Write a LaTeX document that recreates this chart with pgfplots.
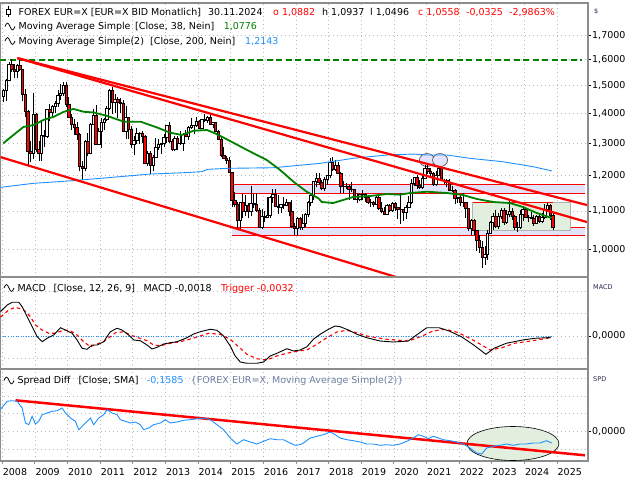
\documentclass[border=0pt]{standalone}
\usepackage{pgfplots}
\pgfplotsset{compat=1.18}
\usepackage{pgfplotstable}
\usepackage{fontspec}
\setmainfont{DejaVu Sans}
\definecolor{cred}{RGB}{255,0,0}
\definecolor{cgreen}{RGB}{0,128,0}
\definecolor{cblue}{RGB}{30,144,255}
\definecolor{cgrid}{RGB}{185,185,185}
\definecolor{cframe}{RGB}{140,140,140}
\definecolor{clav}{RGB}{226,226,250}
\definecolor{clgreen}{RGB}{226,238,222}
\definecolor{cspd}{RGB}{110,128,160}
\definecolor{clab}{RGB}{40,40,80}
\newcommand\lf{\fontsize{9.5}{11}\selectfont}
\newcommand\smf{\fontsize{6.5}{7}\selectfont}

\pgfplotstableread{
m o h l c
0 1.4590 1.4890 1.4400 1.4830
1 1.4830 1.5240 1.4440 1.5180
2 1.5180 1.5900 1.5160 1.5790
3 1.5790 1.6020 1.5510 1.5620
4 1.5620 1.5820 1.5290 1.5550
5 1.5550 1.5840 1.5290 1.5750
6 1.5750 1.6040 1.5560 1.5610
7 1.5610 1.5620 1.4430 1.4680
8 1.4680 1.4870 1.3880 1.4080
9 1.4080 1.4120 1.2330 1.2730
10 1.2730 1.3080 1.2420 1.2690
11 1.2690 1.4720 1.2510 1.3970
12 1.3970 1.4010 1.2740 1.2800
13 1.2800 1.3080 1.2460 1.2670
14 1.2670 1.3740 1.2460 1.3250
15 1.3250 1.3430 1.2880 1.3230
16 1.3230 1.4160 1.3190 1.4150
17 1.4150 1.4340 1.3750 1.4030
18 1.4030 1.4300 1.3850 1.4250
19 1.4250 1.4450 1.4000 1.4340
20 1.4340 1.4840 1.4220 1.4640
21 1.4640 1.5060 1.4480 1.4720
22 1.4720 1.5140 1.4620 1.5000
23 1.5000 1.5140 1.4220 1.4330
24 1.4330 1.4580 1.3860 1.3870
25 1.3870 1.3990 1.3440 1.3630
26 1.3630 1.3820 1.3270 1.3510
27 1.3510 1.3700 1.3110 1.3290
28 1.3290 1.3330 1.2140 1.2270
29 1.2270 1.2460 1.1880 1.2230
30 1.2230 1.3110 1.2150 1.3050
31 1.3050 1.3330 1.2590 1.2680
32 1.2680 1.3670 1.2650 1.3630
33 1.3630 1.4160 1.3600 1.3930
34 1.3930 1.4280 1.2970 1.2980
35 1.2980 1.3500 1.2970 1.3380
36 1.3380 1.3860 1.2860 1.3690
37 1.3690 1.3860 1.3440 1.3800
38 1.3800 1.4250 1.3750 1.4160
39 1.4160 1.4880 1.4110 1.4810
40 1.4810 1.4940 1.3970 1.4390
41 1.4390 1.4700 1.4000 1.4500
42 1.4500 1.4580 1.3840 1.4390
43 1.4390 1.4550 1.4000 1.4370
44 1.4370 1.4480 1.3360 1.3390
45 1.3390 1.4250 1.3150 1.3860
46 1.3860 1.3880 1.3140 1.3450
47 1.3450 1.3560 1.2860 1.2960
48 1.2960 1.3230 1.2620 1.3080
49 1.3080 1.3490 1.2970 1.3330
50 1.3330 1.3380 1.2980 1.3340
51 1.3340 1.3390 1.3000 1.3240
52 1.3240 1.3280 1.2340 1.2370
53 1.2370 1.2750 1.2290 1.2670
54 1.2670 1.2750 1.2040 1.2300
55 1.2300 1.2640 1.2130 1.2570
56 1.2570 1.3170 1.2560 1.2860
57 1.2860 1.3140 1.2800 1.2960
58 1.2960 1.3010 1.2660 1.2990
59 1.2990 1.3310 1.2880 1.3190
60 1.3190 1.3590 1.3000 1.3580
61 1.3580 1.3710 1.3020 1.3070
62 1.3070 1.3140 1.2750 1.2820
63 1.2820 1.3240 1.2750 1.3170
64 1.3170 1.3240 1.2800 1.2990
65 1.2990 1.3420 1.2960 1.3010
66 1.3010 1.3350 1.2750 1.3300
67 1.3300 1.3450 1.3210 1.3220
68 1.3220 1.3570 1.3100 1.3530
69 1.3530 1.3830 1.3480 1.3580
70 1.3580 1.3620 1.3300 1.3590
71 1.3590 1.3890 1.3540 1.3740
72 1.3740 1.3770 1.3480 1.3490
73 1.3490 1.3820 1.3480 1.3800
74 1.3800 1.3970 1.3720 1.3770
75 1.3770 1.3900 1.3670 1.3870
76 1.3870 1.3990 1.3590 1.3630
77 1.3630 1.3700 1.3500 1.3690
78 1.3690 1.3700 1.3370 1.3390
79 1.3390 1.3440 1.3120 1.3130
80 1.3130 1.3220 1.2570 1.2630
81 1.2630 1.2890 1.2500 1.2530
82 1.2530 1.2600 1.2360 1.2450
83 1.2450 1.2570 1.2080 1.2100
84 1.2100 1.2120 1.1100 1.1290
85 1.1290 1.1530 1.1100 1.1190
86 1.1190 1.1240 1.0500 1.0730
87 1.0730 1.1250 1.0520 1.1220
88 1.1220 1.1470 1.0820 1.0990
89 1.0990 1.1440 1.0870 1.1150
90 1.1150 1.1210 1.0810 1.0980
91 1.0980 1.1710 1.0850 1.1210
92 1.1210 1.1460 1.1090 1.1180
93 1.1180 1.1500 1.0960 1.1000
94 1.1000 1.1090 1.0560 1.0570
95 1.0570 1.1060 1.0520 1.0860
96 1.0860 1.0990 1.0710 1.0830
97 1.0830 1.1380 1.0810 1.0870
98 1.0870 1.1410 1.0820 1.1380
99 1.1380 1.1610 1.1210 1.1450
100 1.1450 1.1620 1.1100 1.1130
101 1.1130 1.1430 1.0910 1.1100
102 1.1100 1.1190 1.0950 1.1170
103 1.1170 1.1370 1.1050 1.1160
104 1.1160 1.1330 1.1120 1.1240
105 1.1240 1.1250 1.0850 1.0980
106 1.0980 1.1300 1.0550 1.0590
107 1.0590 1.0670 1.0350 1.0520
108 1.0520 1.0830 1.0340 1.0800
109 1.0800 1.0830 1.0490 1.0570
110 1.0570 1.0910 1.0500 1.0650
111 1.0650 1.0950 1.0570 1.0900
112 1.0900 1.1270 1.0840 1.1240
113 1.1240 1.1450 1.1120 1.1420
114 1.1420 1.1850 1.1310 1.1840
115 1.1840 1.2070 1.1660 1.1910
116 1.1910 1.2090 1.1720 1.1810
117 1.1810 1.1880 1.1570 1.1640
118 1.1640 1.1960 1.1550 1.1900
119 1.1900 1.2020 1.1720 1.2000
120 1.2000 1.2530 1.1920 1.2410
121 1.2410 1.2560 1.2150 1.2190
122 1.2190 1.2480 1.2150 1.2320
123 1.2320 1.2420 1.2060 1.2080
124 1.2080 1.2100 1.1510 1.1690
125 1.1690 1.1850 1.1510 1.1680
126 1.1680 1.1790 1.1610 1.1690
127 1.1690 1.1730 1.1300 1.1600
128 1.1600 1.1820 1.1530 1.1600
129 1.1600 1.1620 1.1300 1.1310
130 1.1310 1.1500 1.1220 1.1320
131 1.1320 1.1490 1.1270 1.1470
132 1.1470 1.1570 1.1290 1.1450
133 1.1450 1.1490 1.1240 1.1370
134 1.1370 1.1450 1.1180 1.1220
135 1.1220 1.1320 1.1110 1.1220
136 1.1220 1.1260 1.1110 1.1170
137 1.1170 1.1410 1.1160 1.1370
138 1.1370 1.1410 1.1030 1.1080
139 1.1080 1.1250 1.0930 1.0990
140 1.0990 1.1110 1.0880 1.0900
141 1.0900 1.1180 1.0880 1.1150
142 1.1150 1.1180 1.0980 1.1020
143 1.1020 1.1240 1.0980 1.1210
144 1.1210 1.1240 1.0990 1.1090
145 1.1090 1.1100 1.0780 1.1030
146 1.1030 1.1500 1.0640 1.1030
147 1.1030 1.1050 1.0730 1.0950
148 1.0950 1.1150 1.0770 1.1100
149 1.1100 1.1420 1.1080 1.1230
150 1.1230 1.1910 1.1190 1.1780
151 1.1780 1.1970 1.1700 1.1940
152 1.1940 1.2010 1.1610 1.1720
153 1.1720 1.1880 1.1620 1.1650
154 1.1650 1.2000 1.1600 1.1930
155 1.1930 1.2310 1.1920 1.2210
156 1.2210 1.2350 1.2050 1.2140
157 1.2140 1.2240 1.1950 1.2070
158 1.2070 1.2110 1.1700 1.1730
159 1.1730 1.2150 1.1700 1.2020
160 1.2020 1.2270 1.1990 1.2230
161 1.2230 1.2250 1.1850 1.1860
162 1.1860 1.1910 1.1750 1.1870
163 1.1870 1.1910 1.1660 1.1810
164 1.1810 1.1910 1.1560 1.1580
165 1.1580 1.1690 1.1520 1.1560
166 1.1560 1.1610 1.1190 1.1340
167 1.1340 1.1390 1.1220 1.1370
168 1.1370 1.1480 1.1120 1.1230
169 1.1230 1.1500 1.1110 1.1220
170 1.1220 1.1230 1.0810 1.1070
171 1.1070 1.1080 1.0470 1.0540
172 1.0540 1.0790 1.0350 1.0730
173 1.0730 1.0770 1.0360 1.0480
174 1.0480 1.0490 0.9950 1.0220
175 1.0220 1.0370 0.9900 1.0050
176 1.0050 1.0200 0.9540 0.9800
177 0.9800 1.0090 0.9630 0.9880
178 0.9880 1.0500 0.9730 1.0400
179 1.0400 1.0740 1.0390 1.0700
180 1.0700 1.0930 1.0480 1.0860
181 1.0860 1.1030 1.0530 1.0580
182 1.0580 1.0930 1.0520 1.0840
183 1.0840 1.1090 1.0790 1.1020
184 1.1020 1.1090 1.0630 1.0690
185 1.0690 1.1010 1.0660 1.0910
186 1.0910 1.1280 1.0830 1.0990
187 1.0990 1.1070 1.0760 1.0840
188 1.0840 1.0880 1.0490 1.0570
189 1.0570 1.0700 1.0450 1.0570
190 1.0570 1.1020 1.0520 1.0890
191 1.0890 1.1140 1.0720 1.1040
192 1.1040 1.1050 1.0800 1.0820
193 1.0820 1.0900 1.0690 1.0810
194 1.0810 1.0980 1.0770 1.0790
195 1.0790 1.0890 1.0600 1.0670
196 1.0670 1.0900 1.0650 1.0850
197 1.0850 1.0920 1.0670 1.0710
198 1.0710 1.0950 1.0670 1.0820
199 1.0820 1.1200 1.0780 1.1050
200 1.1050 1.1210 1.1000 1.1140
201 1.1140 1.1200 1.0760 1.0880
202 1.0882 1.0937 1.0496 1.0558
}\ohlc
\pgfplotstablegetrowsof{\ohlc}
\pgfmathtruncatemacro{\lastrow}{\pgfplotsretval-1}

\pgfplotsset{panel/.style={
  scale only axis, anchor=south west, width=587.5pt,
  xmin=-0.62, xmax=215.4,
  axis line style={cframe, line width=1.5pt},
  tick align=outside, major tick length=3pt,
  xtick={0,12,...,204},
  ytick pos=right, yticklabel pos=right,
  ytick style={black, line width=0.6pt},
  yticklabel style={anchor=west, inner sep=1pt, font=\lf},
  grid=major, major grid style={cgrid, line width=0.6pt, dash pattern=on 1pt off 3pt},
  minor tick num=0,
  clip=true,
}}

\begin{document}
\begin{tikzpicture}
\useasboundingbox (0,0) rectangle (640pt,480pt);

% ---------------- main price panel ----------------
\begin{axis}[panel, at={(0.5pt,203pt)}, height=274pt,
  ymode=log, ymin=0.9338, ymax=1.8404,
  ytick={1,1.1,1.2,1.3,1.4,1.5,1.6,1.7},
  yticklabels={1{,}0000,1{,}1000,1{,}2000,1{,}3000,1{,}4000,1{,}5000,1{,}6000,1{,}7000},
  xticklabels={}, xtick style={draw=none},
]
% support / resistance bands
\addplot[fill=clav, draw=none] coordinates {(84.5,1.1495) (214.3,1.1495) (214.3,1.1740) (84.5,1.1740)};
\addplot[fill=clav, draw=none] coordinates {(84.5,1.0360) (214.3,1.0360) (214.3,1.0560) (84.5,1.0560)};
\addplot[cred, line width=0.9pt] coordinates {(84.5,1.1740) (214.3,1.1740)};
\addplot[cred, line width=0.9pt] coordinates {(84.5,1.1495) (214.3,1.1495)};
\addplot[cred, line width=0.9pt] coordinates {(84.5,1.0560) (214.3,1.0560)};
\addplot[cred, line width=0.9pt] coordinates {(84.5,1.0360) (214.3,1.0360)};
% range box
\addplot[fill=clgreen, draw=gray!60, line width=0.5pt] coordinates {(173,1.0471) (208.7,1.0471) (208.7,1.1235) (173,1.1235) (173,1.0471)};
\addplot[cred, line width=0.9pt] coordinates {(173,1.1235) (202.6,1.1235)};
% double top marks
\draw[fill=clav, draw=black!75, line width=0.6pt] (axis cs:156.2,1.2474) ellipse [x radius=7.5pt, y radius=6.5pt];
\draw[fill=clav, draw=black!75, line width=0.6pt] (axis cs:161.0,1.2474) ellipse [x radius=7.5pt, y radius=6.5pt];
% 1.6 resistance
\addplot[cgreen, line width=2pt, dash pattern=on 6pt off 3.5pt] coordinates {(-0.62,1.6) (213.1,1.6)};
% candles
\pgfplotsforeachungrouped \i in {0,...,\lastrow}{%
  \pgfplotstablegetelem{\i}{m}\of\ohlc \let\cM\pgfplotsretval
  \pgfplotstablegetelem{\i}{o}\of\ohlc \let\cO\pgfplotsretval
  \pgfplotstablegetelem{\i}{h}\of\ohlc \let\cH\pgfplotsretval
  \pgfplotstablegetelem{\i}{l}\of\ohlc \let\cL\pgfplotsretval
  \pgfplotstablegetelem{\i}{c}\of\ohlc \let\cC\pgfplotsretval
  \pgfmathsetmacro{\xa}{\cM+0.06}%
  \pgfmathsetmacro{\xb}{\cM+0.94}%
  \pgfmathsetmacro{\xc}{\cM+0.5}%
  \ifdim\cC pt<\cO pt \def\cF{cred}\else\def\cF{white}\fi
  \edef\doit{%
    \noexpand\addplot[black, line width=0.8pt, forget plot] coordinates {(\xc,\cL) (\xc,\cH)};
    \noexpand\addplot[draw=black, fill=\cF, line width=0.8pt, forget plot] coordinates {(\xa,\cO) (\xb,\cO) (\xb,\cC) (\xa,\cC) (\xa,\cO)};
  }\doit
}
% SMA 200
\addplot[cblue, line width=0.9pt] coordinates {
(-0.62,1.1659) (11.5,1.1775) (24.0,1.1842) (36.1,1.1922) (54.5,1.2049) (66.6,1.2088) (73.5,1.2120) (75.4,1.2190) (82.8,1.2221) (99.7,1.2239) (116.9,1.2372) (129.0,1.2527) (141.5,1.2630) (151.1,1.2661) (156.2,1.2630) (163.5,1.2630) (172.0,1.2527) (184.2,1.2421) (195.3,1.2269) (202.1,1.2143)};
% SMA 38
\addplot[cgreen, line width=1.8pt] coordinates {
(0.37,1.3003) (4.15,1.3273) (7.82,1.3539) (11.6,1.3604) (15.17,1.3776) (19.0,1.3886) (22.5,1.4051) (26.2,1.4157) (30.0,1.4057) (33.7,1.4034) (38.6,1.3913) (44.9,1.3714) (51.0,1.3714) (56.9,1.3523) (61.8,1.3347) (66.1,1.3273) (70.4,1.3413) (75.3,1.3437) (78.3,1.3326) (82.6,1.3132) (90.0,1.2790) (97.3,1.2474) (102.2,1.2170) (107.1,1.1823) (112.0,1.1531) (116.3,1.1346) (117.5,1.1243) (121.7,1.1215) (129.0,1.1383) (135.3,1.1411) (141.5,1.1468) (146.3,1.1450) (150.0,1.1496) (156.2,1.1533) (163.6,1.1496) (169.4,1.1440) (174.6,1.1327) (180.5,1.1243) (186.7,1.1215) (191.5,1.1104) (196.6,1.0940) (202.1,1.0806)};
% trend channel
\addplot[cred, line width=2.2pt] coordinates {(5.62,1.6058) (215.0,1.1159)};
\addplot[cred, line width=2.2pt] coordinates {(5.62,1.6058) (215.0,1.0699)};
\addplot[cred, line width=2.2pt] coordinates {(-0.62,1.2566) (146.3,0.9310)};
\end{axis}

% ---------------- MACD panel ----------------
\begin{axis}[panel, at={(0.5pt,111pt)}, height=92pt,
  ymin=-0.0594, ymax=0.1062,
  ytick={0}, yticklabels={0{,}0000},
  extra y ticks={-0.04,0.04,0.08}, extra y tick labels={},
  extra y tick style={grid=major, major tick length=0pt},
  xticklabels={}, xtick style={draw=none},
]
\addplot[cblue, line width=0.8pt, dash pattern=on 1pt off 1.5pt] coordinates {(-0.62,0) (201.9,0)};
\addplot[cred, line width=1.1pt, dash pattern=on 3.5pt off 3pt] coordinates {
(-0.6,0.034) (2.42,0.0468) (4.89,0.0517) (7.93,0.0468) (10.39,0.0347) (12.23,0.0198) (14.69,0.0108) (17.12,0.0049) (19.58,0.0049) (22.63,0.0108) (25.09,0.0095) (27.55,0.0018) (29.97,-0.0103) (32.43,-0.0193) (34.89,-0.0144) (37.32,-0.0103) (39.78,-0.0013) (41.62,0.0059) (44.67,0.0077) (47.13,0.0018) (49.59,-0.0023) (53.26,-0.0085) (55.68,-0.0162) (58.15,-0.0175) (61.82,-0.0131) (65.49,-0.0103) (69.16,-0.0054) (72.84,0) (75.89,0.0049) (80.18,0.0031) (83.86,-0.0059) (86.91,-0.0193) (89.99,-0.0329) (93.66,-0.0409) (97.34,-0.0432) (101.01,-0.036) (104.68,-0.0311) (108.36,-0.0275) (112.03,-0.0252) (115.70,-0.0149) (119.38,-0.0031) (123.05,0.0072) (126.72,0.0103) (130.40,0.0059) (134.07,0) (137.74,-0.0031) (141.42,-0.0059) (145.09,-0.0072) (149.35,-0.009) (153.87,-0.0013) (158.35,0.009) (162.87,0.0121) (167.35,0.0067) (171.87,-0.0041) (176.35,-0.0162) (179.36,-0.0252) (183.84,-0.0211) (188.36,-0.0131) (194.35,-0.009) (200.37,-0.0041) (201.88,-0.0032)};
\addplot[black, line width=0.9pt] coordinates {
(-0.6,0.044) (1.84,0.0558) (3.67,0.0607) (6.10,0.0607) (7.35,0.0527) (9.18,0.0347) (11.02,0.0167) (12.86,-0.0013) (14.69,-0.0103) (16.53,-0.0041) (18.95,0.0018) (21.41,0.0149) (23.25,0.0108) (25.71,0.0049) (27.55,-0.0072) (29.38,-0.0221) (31.22,-0.0239) (33.06,-0.0162) (34.89,-0.0162) (37.32,-0.0103) (39.78,0.0077) (42.24,0.0139) (44.08,0.0108) (46.50,0.0018) (48.34,-0.0072) (50.80,-0.0085) (53.26,-0.0162) (55.10,-0.0234) (56.93,-0.0203) (59.36,-0.0144) (61.82,-0.0121) (64.28,-0.0103) (67.95,-0.0031) (70.38,0.0036) (72.84,0.0077) (76.51,0.0121) (78.97,0.0103) (81.40,0) (83.86,-0.018) (85.69,-0.036) (87.53,-0.0468) (89.99,-0.0491) (93.66,-0.0491) (96.09,-0.0468) (98.55,-0.036) (101.01,-0.0311) (104.68,-0.0229) (107.11,-0.027) (109.57,-0.0252) (112.03,-0.0193) (114.45,-0.0059) (116.91,0.0031) (119.96,0.0121) (122.43,0.018) (124.26,0.0167) (127.31,0.0108) (130.40,0.0031) (134.07,-0.0031) (138.95,-0.009) (143.84,-0.0108) (149.35,-0.009) (152.36,0.0018) (156.11,0.0149) (160.59,0.0149) (164.37,0.009) (168.86,-0.0013) (173.37,-0.0162) (177.86,-0.0329) (180.87,-0.0221) (185.35,-0.0131) (191.37,-0.0072) (195.85,-0.0041) (200.37,-0.0031) (201.88,-0.0018)};
\end{axis}

% ---------------- Spread panel ----------------
\begin{axis}[panel, at={(0.5pt,19pt)}, height=92pt,
  ymin=-0.4024, ymax=0.8442,
  ytick={0}, yticklabels={0{,}0000},
  extra y ticks={-0.24,0.24,0.48,0.72}, extra y tick labels={},
  extra y tick style={grid=major, major tick length=0pt},
  xtick pos=bottom,
  xticklabels={2008,2009,2010,2011,2012,2013,2014,2015,2016,2017,2018,2019,2020,2021,2022,2023,2024,2025},
  xtick style={cframe, line width=0.8pt},
  xticklabel style={anchor=north west, inner sep=0pt, font=\lf, xshift=0.5pt, yshift=-4pt},
]
\draw[fill=clgreen, draw=black, line width=0.6pt] (axis cs:187.8,-0.1653) ellipse [x radius=46pt, y radius=17pt];
\addplot[cred, line width=2.5pt] coordinates {(4.89,0.4201) (214.3,-0.3252)};
\addplot[cblue, line width=0.9pt] coordinates {
(-0.6,0.30) (0,0.325) (1.84,0.4065) (3.67,0.4146) (5.51,0.4065) (7.35,0.3157) (8.56,0.1125) (9.77,0.0894) (11.02,0.2033) (12.23,0.0989) (13.44,0.1355) (14.69,0.2249) (16.53,0.2480) (18.37,0.2710) (20.20,0.2791) (22.04,0.3157) (23.25,0.2480) (25.09,0.1802) (26.92,0.1355) (28.14,0.0217) (29.38,0.0678) (30.60,0.1125) (32.44,0.1802) (33.65,0.0894) (35.48,0.1802) (37.32,0.2249) (38.57,0.2927) (40.40,0.2480) (42.24,0.2249) (43.45,0.1572) (45.29,0.1355) (47.13,0.1125) (48.96,0.1260) (50.80,0.0894) (52.01,0.0217) (53.85,0.0447) (55.68,0.0894) (58.15,0.1125) (59.98,0.1572) (61.82,0.1125) (64.28,0.1260) (66.70,0.1491) (69.16,0.1572) (71.63,0.1707) (74.05,0.1802) (76.51,0.1572) (78.97,0.0894) (81.40,0.0217) (83.86,-0.0908) (86.32,-0.1721) (88.74,-0.1138) (91.20,-0.1450) (93.66,-0.1721) (96.09,-0.1355) (98.55,-0.1003) (101.01,-0.1138) (103.43,-0.1138) (105.90,-0.1585) (107.73,-0.1897) (109.57,-0.1816) (110.78,-0.1585) (113.24,-0.0908) (115.70,-0.0678) (118.13,-0.0461) (120.59,-0.0095) (122.43,-0.0461) (124.26,-0.0908) (126.72,-0.1138) (129.15,-0.1274) (131.61,-0.1450) (134.07,-0.1721) (136.49,-0.1721) (138.95,-0.1897) (141.42,-0.1816) (143.84,-0.1897) (146.30,-0.1721) (148.76,-0.1355) (151.18,-0.0908) (153.02,-0.0461) (154.86,-0.0678) (156.69,-0.1003) (158.53,-0.0678) (160.37,-0.0908) (162.20,-0.1138) (164.67,-0.1274) (167.13,-0.1450) (169.55,-0.1721) (172.01,-0.2263) (174.47,-0.2940) (176.31,-0.3076) (178.15,-0.2263) (180.57,-0.2033) (183.03,-0.1897) (185.49,-0.1721) (187.92,-0.1897) (190.38,-0.1721) (192.84,-0.1721) (195.27,-0.1585) (197.73,-0.1585) (200.19,-0.1274) (202.03,-0.1585)};
\end{axis}

% ---------------- legends / labels ----------------
\begin{scope}[every node/.style={anchor=base west, inner sep=0pt, font=\lf}]
% line 1
\draw[line width=0.8pt] (8.5pt,463pt) -- (8.5pt,474pt);
\draw[line width=0.7pt, fill=white] (6.3pt,465.5pt) rectangle (10.7pt,471pt);
\node at (18.5pt,464.8pt) {FOREX EUR=X [EUR=X BID Monatlich]};
\node at (208pt,464.8pt) {30.11.2024};
\node[text=cred] at (273pt,464.8pt) {o 1,0882};
\node at (322pt,464.8pt) {h 1,0937};
\node at (370pt,464.8pt) {l 1,0496};
\node[text=cred] at (418pt,464.8pt) {c 1,0558};
\node[text=cred] at (466pt,464.8pt) {-0,0325};
\node[text=cred] at (509pt,464.8pt) {-2,9863\%};
% line 2
\draw[line width=0.7pt] (5pt,453.5pt) sin (7.5pt,457pt) cos (10pt,453.5pt) sin (12.5pt,450pt) cos (15pt,453.5pt);
\node at (18.5pt,450.5pt) {Moving Average Simple};
\node at (135pt,450.5pt) {[Close, 38, Nein]};
\node[text=cgreen] at (223.6pt,450.5pt) {1,0776};
% line 3
\draw[line width=0.7pt] (5pt,439pt) sin (7.5pt,442.5pt) cos (10pt,439pt) sin (12.5pt,435.5pt) cos (15pt,439pt);
\node at (18.5pt,435.8pt) {Moving Average Simple(2)};
\node at (150pt,435.8pt) {[Close, 200, Nein]};
\node[text=cblue] at (245pt,435.8pt) {1,2143};
% MACD
\draw[line width=0.7pt] (4pt,192pt) sin (6.5pt,195.5pt) cos (9pt,192pt) sin (11.5pt,188.5pt) cos (14pt,192pt);
\node at (17.3pt,188.8pt) {MACD};
\node at (53.3pt,188.8pt) {[Close, 12, 26, 9]};
\node at (143.3pt,188.8pt) {MACD -0,0018};
\node[text=cred] at (221pt,188.8pt) {Trigger -0,0032};
% SPD
\draw[line width=0.7pt] (4pt,99.5pt) sin (6.5pt,103pt) cos (9pt,99.5pt) sin (11.5pt,96pt) cos (14pt,99.5pt);
\node at (17.3pt,96.2pt) {Spread Diff};
\node at (78.3pt,96.2pt) {[Close, SMA]};
\node[text=cblue] at (146.7pt,96.2pt) {-0,1585};
\node[text=cspd] at (190.7pt,96.2pt) {\{FOREX EUR=X, Moving Average Simple(2)\}};
% right column captions
\node[font=\smf, text=clab] at (594pt,466.5pt) {\$};
\node[font=\smf, text=clab] at (593pt,190.5pt) {MACD};
\node[font=\smf, text=clab] at (593pt,98.5pt) {SPD};
\end{scope}
\end{tikzpicture}
\end{document}
